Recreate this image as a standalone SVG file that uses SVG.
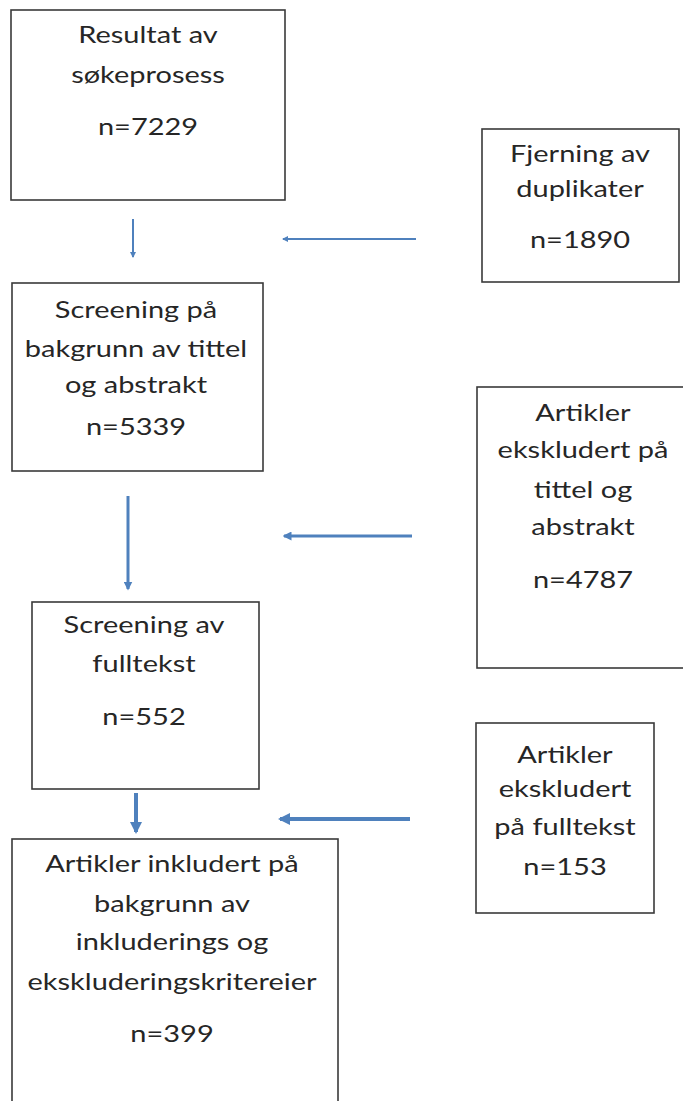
<svg xmlns="http://www.w3.org/2000/svg" width="683" height="1101" viewBox="0 0 683 1101">
<style>
.box{fill:#fff;stroke:#3a3a3a;stroke-width:1.6}
text{font-family:Lato,"Liberation Sans",sans-serif;font-size:23px;fill:#262626;text-anchor:middle}
.c{stroke:#4f81bd;fill:none}
</style>
<defs>
<marker id="ah" viewBox="0 0 6 6" refX="5" refY="3" markerWidth="3" markerHeight="3" orient="auto" markerUnits="strokeWidth">
<path d="M0,0 L6,3 L0,6 z" fill="#4f81bd"/>
</marker>
</defs>
<rect width="683" height="1101" fill="#fff"/>
<g id="n1"><rect class="box" x="11" y="10" width="274" height="190"/>
<g transform="translate(148 0) scale(1.26 1)"><text x="0" y="43">Resultat av</text><text x="0" y="83">søkeprosess</text><text x="0" y="135">n=7229</text></g></g>
<g id="n2"><rect class="box" x="482" y="129" width="197" height="153"/>
<g transform="translate(580 0) scale(1.26 1)"><text x="0" y="162">Fjerning av</text><text x="0" y="197">duplikater</text><text x="0" y="248">n=1890</text></g></g>
<g id="n3"><rect class="box" x="12" y="283" width="251" height="188"/>
<g transform="translate(136 0) scale(1.26 1)"><text x="0" y="318">Screening på</text><text x="0" y="357">bakgrunn av tittel</text><text x="0" y="393">og abstrakt</text><text x="0" y="435">n=5339</text></g></g>
<g id="n4"><rect class="box" x="477" y="387" width="210" height="281"/>
<g transform="translate(583 0) scale(1.26 1)"><text x="0" y="421">Artikler</text><text x="0" y="458">ekskludert på</text><text x="0" y="498">tittel og</text><text x="0" y="535">abstrakt</text><text x="0" y="588">n=4787</text></g></g>
<g id="n5"><rect class="box" x="32" y="602" width="227" height="187"/>
<g transform="translate(144 0) scale(1.26 1)"><text x="0" y="633">Screening av</text><text x="0" y="672">fulltekst</text><text x="0" y="725">n=552</text></g></g>
<g id="n6"><rect class="box" x="476" y="723" width="178" height="190"/>
<g transform="translate(565 0) scale(1.26 1)"><text x="0" y="763">Artikler</text><text x="0" y="797">ekskludert</text><text x="0" y="835">på fulltekst</text><text x="0" y="875">n=153</text></g></g>
<g id="n7"><rect class="box" x="12" y="839" width="326" height="280"/>
<g transform="translate(172 0) scale(1.26 1)"><text x="0" y="872">Artikler inkludert på</text><text x="0" y="912">bakgrunn av</text><text x="0" y="950">inkluderings og</text><text x="0" y="990">ekskluderingskritereier</text><text x="0" y="1042">n=399</text></g></g>
<g id="connectors">
<line class="c" x1="133" y1="219" x2="133" y2="257" stroke-width="2" marker-end="url(#ah)"/>
<line class="c" x1="416" y1="239" x2="283" y2="239" stroke-width="2" marker-end="url(#ah)"/>
<line class="c" x1="128" y1="496" x2="128" y2="589" stroke-width="3" marker-end="url(#ah)"/>
<line class="c" x1="412" y1="536" x2="284" y2="536" stroke-width="3" marker-end="url(#ah)"/>
<line class="c" x1="136" y1="793" x2="136" y2="832" stroke-width="4" marker-end="url(#ah)"/>
<line class="c" x1="410" y1="819" x2="280" y2="819" stroke-width="4" marker-end="url(#ah)"/>
</g>
</svg>
